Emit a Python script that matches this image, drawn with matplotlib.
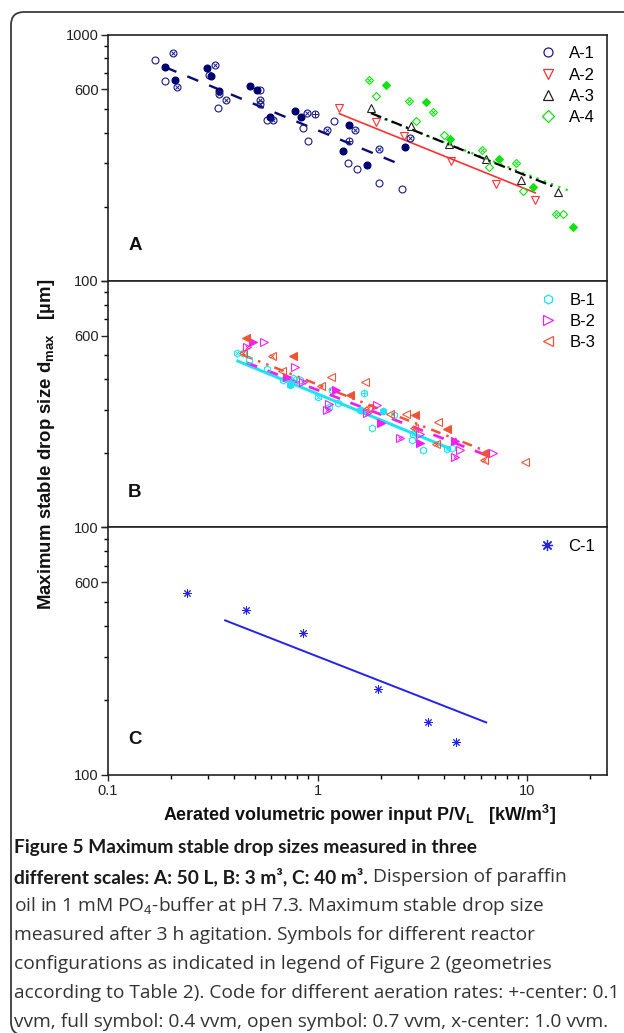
import matplotlib
matplotlib.use('Agg')
import matplotlib.pyplot as plt
from matplotlib.lines import Line2D
from matplotlib.patches import FancyBboxPatch
from matplotlib.ticker import LogLocator, NullFormatter, FixedLocator, FixedFormatter
from matplotlib.transforms import IdentityTransform

plt.rcParams['font.family'] = ['Liberation Sans', 'DejaVu Sans']
plt.rcParams['mathtext.fontset'] = 'custom'
plt.rcParams['mathtext.rm'] = 'Liberation Sans'
plt.rcParams['mathtext.it'] = 'Liberation Sans:italic'
plt.rcParams['mathtext.bf'] = 'Liberation Sans:bold'

# ---- panel A: 50 L ----
a1_open_x = [0.168, 0.187, 0.303, 0.333, 0.532, 0.572, 0.850, 0.901, 1.199, 1.403, 1.549, 1.960, 2.523]
a1_open_y = [789, 648, 688, 501, 597, 448, 417, 369, 444, 301, 285, 249, 236]
a1_full_x = [0.188, 0.209, 0.297, 0.311, 0.340, 0.476, 0.516, 0.595, 0.783, 0.837, 1.414, 1.328, 1.729, 2.597]
a1_full_y = [741, 656, 732, 681, 588, 620, 597, 462, 491, 462, 429, 338, 296, 349]
a1_cross_x = [0.204, 0.214, 0.323, 0.340, 0.366, 0.532, 0.532, 0.611, 0.894, 1.114, 1.510, 1.972, 2.744]
a1_cross_y = [842, 610, 755, 575, 540, 540, 524, 448, 480, 411, 411, 343, 382]
a1_plus_x = [0.970, 1.414]
a1_plus_y = [476, 371]
a1_fit_x = [0.188, 2.48]
a1_fit_y = [736, 297]

a2_x = [1.271, 1.902, 2.568, 4.32, 7.11, 10.9]
a2_y = [503, 440, 386, 308, 247, 213]
a2_fit_x = [1.271, 10.9]
a2_fit_y = [477, 228]

a3_x = [1.795, 2.786, 4.21, 6.35, 9.33, 14.0]
a3_y = [501, 424, 359, 313, 257, 229]
a3_fit_x = [1.795, 13.4]
a3_fit_y = [480, 241]

a4_cross_x = [1.762, 2.725, 3.548, 6.10, 8.86, 13.7]
a4_cross_y = [656, 539, 486, 340, 302, 187]
a4_full_x = [2.123, 3.285, 4.26, 7.35, 10.6, 16.5]
a4_full_y = [622, 530, 376, 312, 241, 165]
a4_open_x = [1.902, 2.943, 4.02, 6.59, 9.50, 14.8]
a4_open_y = [565, 444, 392, 291, 232, 187]
a4_fit_x = [1.92, 16.3]
a4_fit_y = [466, 230]

# ---- panel B: 3 m3 ----
b1_open_x = [0.4395, 0.4726, 0.5721, 0.8249, 1.176, 1.257, 1.826, 2.301, 2.817, 3.164, 4.372]
b1_open_y = [509, 478, 438, 396, 361, 319, 252, 286, 226, 206, 209]
b1_full_x = [0.7391, 1.614, 2.039]
b1_full_y = [378, 299, 297]
b1_cross_x = [0.4142, 0.6824, 0.7663, 1.002, 1.138, 1.584, 2.848, 4.138]
b1_cross_y = [509, 396, 403, 337, 309, 299, 239, 207]
b1_plus_x = [1.655]
b1_plus_y = [352]
b1_fit_x = [0.416, 4.26]
b1_fit_y = [473, 209]

b2_open_x = [0.5572, 0.7808, 1.131, 1.929, 3.062, 4.753, 6.86]
b2_open_y = [564, 446, 317, 314, 239, 206, 201]
b2_full_x = [0.4905, 0.7128, 1.225, 2.003, 3.062, 4.533]
b2_full_y = [564, 406, 361, 266, 219, 225]
b2_cross_x = [0.4592, 0.8553, 1.106, 1.718, 2.458, 4.533]
b2_cross_y = [541, 390, 299, 290, 230, 193]
b2_fit_x = [0.459, 6.30]
b2_fit_y = [466, 197]

b3_open_x = [0.6749, 1.156, 1.686, 2.218, 2.646, 3.731, 9.78]
b3_open_y = [432, 409, 390, 288, 288, 268, 184]
b3_full_x = [0.4543, 0.7663, 1.429, 2.921, 4.138, 6.232]
b3_full_y = [585, 496, 344, 286, 250, 201]
b3_cross_x = [0.4395, 0.6045, 1.039, 1.748, 2.867, 3.678, 6.185]
b3_cross_y = [509, 496, 375, 304, 252, 217, 187]
b3_fit_x = [0.44, 6.42]
b3_fit_y = [501, 203]

# ---- panel C: 40 m3 ----
c1_x = [0.238, 0.456, 0.853, 1.945, 3.37, 4.58]
c1_y = [542, 463, 373, 222, 163, 136]
c1_fit_x = [0.362, 6.37]
c1_fit_y = [421, 163]

NAVY = '#1a1a85'
RED = '#ff3030'
GREEN = '#11e011'
CYAN = '#1ee3f3'
MAG = '#f020f0'
ORANGE = '#ee5535'
BLUE = '#2222ee'

W, H = 624, 1033
fig = plt.figure(figsize=(W / 100, H / 100), dpi=100)

# rounded frame around figure + caption
frame = FancyBboxPatch((11, -2), 640, H - 12 + 2, boxstyle='round,pad=0,rounding_size=13',
                       transform=IdentityTransform(), fill=False, ec='#3a3a3a', lw=1.3)
fig.patches.append(frame)

left, right = 108, 607
tops = [34.5, 281, 527.3]
bots = [281, 527.3, 775]
axes = []
for t, b in zip(tops, bots):
    ax = fig.add_axes([left / W, 1 - b / H, (right - left) / W, (b - t) / H])
    ax.set_xscale('log')
    ax.set_yscale('log')
    ax.set_xlim(0.1, 24)
    ax.set_ylim(100, 1000)
    for s in ax.spines.values():
        s.set_linewidth(1.2)
        s.set_color('#222222')
    ax.yaxis.set_major_locator(FixedLocator([100, 600, 1000]))
    ax.yaxis.set_minor_locator(LogLocator(base=10, subs=(2, 3, 4, 5, 7, 8, 9)))
    ax.yaxis.set_minor_formatter(NullFormatter())
    ax.tick_params(axis='y', which='major', length=5, width=1.0, labelsize=10.5, pad=1.5, colors='#222222')
    ax.tick_params(axis='y', which='minor', length=3, width=1.0)
    ax.xaxis.set_major_locator(FixedLocator([0.1, 1, 10]))
    ax.xaxis.set_minor_locator(LogLocator(base=10, subs=(2, 3, 4, 5, 6, 7, 8, 9)))
    ax.xaxis.set_minor_formatter(NullFormatter())
    axes.append(ax)

axA, axB, axC = axes
axA.yaxis.set_major_formatter(FixedFormatter(['100', '600', '1000']))
axB.yaxis.set_major_formatter(FixedFormatter(['100', '600', '']))
axC.yaxis.set_major_formatter(FixedFormatter(['100', '600', '']))
for ax in (axA, axB):
    ax.tick_params(axis='x', which='both', length=0, labelbottom=False)
axC.xaxis.set_major_formatter(FixedFormatter(['0.1', '1', '10']))
axC.tick_params(axis='x', which='major', length=4, width=1.0, labelsize=10.5, pad=2.5, colors='#222222')
axC.tick_params(axis='x', which='minor', length=3, width=1.0)

MS = 5
MEW = 0.8


def pts(ax, x, y, marker, color, kind, ms=MS):
    if kind == 'full':
        ax.plot(x, y, ls='none', marker=marker, mfc=color, mec=color, ms=ms, mew=MEW)
        return
    ax.plot(x, y, ls='none', marker=marker, mfc='none', mec=color, ms=ms, mew=MEW)
    if kind == 'cross':
        ax.plot(x, y, ls='none', marker='x', color=color, ms=ms * 0.65, mew=0.7)
    elif kind == 'plus':
        ax.plot(x, y, ls='none', marker='+', color=color, ms=ms * 0.8, mew=0.7)


# panel A
axA.plot(a1_fit_x, a1_fit_y, color='#0a0a70', lw=1.7, dashes=(5, 5))
axA.plot(a2_fit_x, a2_fit_y, color=RED, lw=1.2)
axA.plot(a4_fit_x, a4_fit_y, color=GREEN, lw=1.6, dashes=(1, 2.5))
axA.plot(a3_fit_x, a3_fit_y, color='black', lw=1.6, dashes=(5, 2, 1, 2))
pts(axA, a1_open_x, a1_open_y, 'o', NAVY, 'open')
pts(axA, a1_full_x, a1_full_y, 'o', '#000070', 'full')
pts(axA, a1_cross_x, a1_cross_y, 'o', NAVY, 'cross')
pts(axA, a1_plus_x, a1_plus_y, 'o', NAVY, 'plus')
pts(axA, a2_x, a2_y, 'v', RED, 'open', ms=5.5)
pts(axA, a3_x, a3_y, '^', '#222222', 'open', ms=5.5)
pts(axA, a4_cross_x, a4_cross_y, 'D', GREEN, 'cross', ms=4.5)
pts(axA, a4_full_x, a4_full_y, 'D', GREEN, 'full', ms=4.5)
pts(axA, a4_open_x, a4_open_y, 'D', GREEN, 'open', ms=4.5)

# panel B
axB.plot(b1_fit_x, b1_fit_y, color=CYAN, lw=2.2)
axB.plot(b2_fit_x, b2_fit_y, color=MAG, lw=2.0, dashes=(4, 4))
axB.plot(b3_fit_x, b3_fit_y, color=ORANGE, lw=1.8, dashes=(4, 2.5, 1, 2.5, 1, 2.5))
pts(axB, b1_open_x, b1_open_y, 'h', CYAN, 'open')
pts(axB, b1_full_x, b1_full_y, 'h', CYAN, 'full')
pts(axB, b1_cross_x, b1_cross_y, 'h', CYAN, 'cross')
pts(axB, b1_plus_x, b1_plus_y, 'h', CYAN, 'plus')
pts(axB, b2_open_x, b2_open_y, '>', MAG, 'open', ms=5.5)
pts(axB, b2_full_x, b2_full_y, '>', MAG, 'full', ms=5.5)
pts(axB, b2_cross_x, b2_cross_y, '>', MAG, 'cross', ms=5.5)
pts(axB, b3_open_x, b3_open_y, '<', ORANGE, 'open', ms=5.5)
pts(axB, b3_full_x, b3_full_y, '<', ORANGE, 'full', ms=5.5)
pts(axB, b3_cross_x, b3_cross_y, '<', ORANGE, 'cross', ms=5.5)

# panel C
axC.plot(c1_fit_x, c1_fit_y, color=BLUE, lw=1.4)
axC.plot(c1_x, c1_y, ls='none', marker=(8, 2, 0), color=BLUE, ms=6, mew=0.7)


def handle(marker, color, ms=6.5):
    return Line2D([], [], ls='none', marker=marker, mfc='none', mec=color, ms=ms, mew=0.9)


leg_kw = dict(loc='upper right', frameon=False, fontsize=12, handletextpad=0.7,
              labelspacing=0.38, borderaxespad=0.3, handlelength=1.2)
axA.legend([handle('o', NAVY), handle('v', RED, 7.5), handle('^', '#222222', 7.5), handle('D', GREEN, 6.5)],
           ['A-1', 'A-2', 'A-3', 'A-4'], **leg_kw)
axB.legend([handle('h', CYAN), handle('>', MAG, 7.5), handle('<', ORANGE, 7.5)],
           ['B-1', 'B-2', 'B-3'], **leg_kw)
axC.legend([Line2D([], [], ls='none', marker=(8, 2, 0), color=BLUE, ms=8, mew=0.9)], ['C-1'], **leg_kw)

for ax, lab in zip(axes, ['A', 'B', 'C']):
    ax.text(0.054, 0.142, lab, transform=ax.transAxes, ha='center', va='center',
            fontsize=13.5, fontweight='bold', color='#111111')

fig.text(47 / W, 1 - 444 / H, r'Maximum stable drop size d$_{\mathregular{max}}$   [µm]', rotation=90,
         ha='center', va='center', fontsize=13.4, fontweight='bold', color='#111111')
fig.text(360 / W, 1 - 815 / H, r'Aerated volumetric power input P/V$_{\mathregular{L}}$   [kW/m$^{\mathregular{3}}$]',
         ha='center', va='center', fontsize=12.9, fontweight='bold', color='#111111')

# caption
CAP = ['Open Sans', 'DejaVu Sans']
CAP_B = ['Lato', 'DejaVu Sans']
cap_x = 14 / W
line_y = [848, 877, 906, 935, 964, 993, 1022]
line1 = 'Figure 5 Maximum stable drop sizes measured in three'
bold2 = 'different scales: A: 50 L, B: 3 m³, C: 40 m³.'
rest = ['oil in 1 mM PO$_4$-buffer at pH 7.3. Maximum stable drop size',
        'measured after 3 h agitation. Symbols for different reactor',
        'configurations as indicated in legend of Figure 2 (geometries',
        'according to Table 2). Code for different aeration rates: +-center: 0.1',
        'vvm, full symbol: 0.4 vvm, open symbol: 0.7 vvm, x-center: 1.0 vvm.']

renderer = fig.canvas.get_renderer()


def fit_size(text, family, weight, target_px, base=12.0):
    t = fig.text(0, 0, text, family=family, fontweight=weight, fontsize=base)
    w = t.get_window_extent(renderer).width
    t.remove()
    return base * target_px / w


bold_size = fit_size(line1, CAP_B, 'bold', 462)
reg_size = fit_size(rest[3], CAP, 'normal', 600)

fig.text(cap_x, 1 - line_y[0] / H, line1, family=CAP_B, fontweight='bold', fontsize=bold_size,
         va='center', color='#1a1a1a')
t_bold = fig.text(cap_x, 1 - line_y[1] / H, bold2, family=CAP_B, fontweight='bold', fontsize=bold_size,
                  va='center', color='#1a1a1a')
bb = t_bold.get_window_extent(renderer)
fig.text(bb.x1 / W, 1 - line_y[1] / H, ' Dispersion of paraffin',
         family=CAP, fontsize=reg_size, va='center', color='#333333')
for s, yy in zip(rest, line_y[2:]):
    fig.text(cap_x, 1 - yy / H, s, family=CAP, fontsize=reg_size, va='center', color='#333333')

fig.savefig('out.png', dpi=100)
